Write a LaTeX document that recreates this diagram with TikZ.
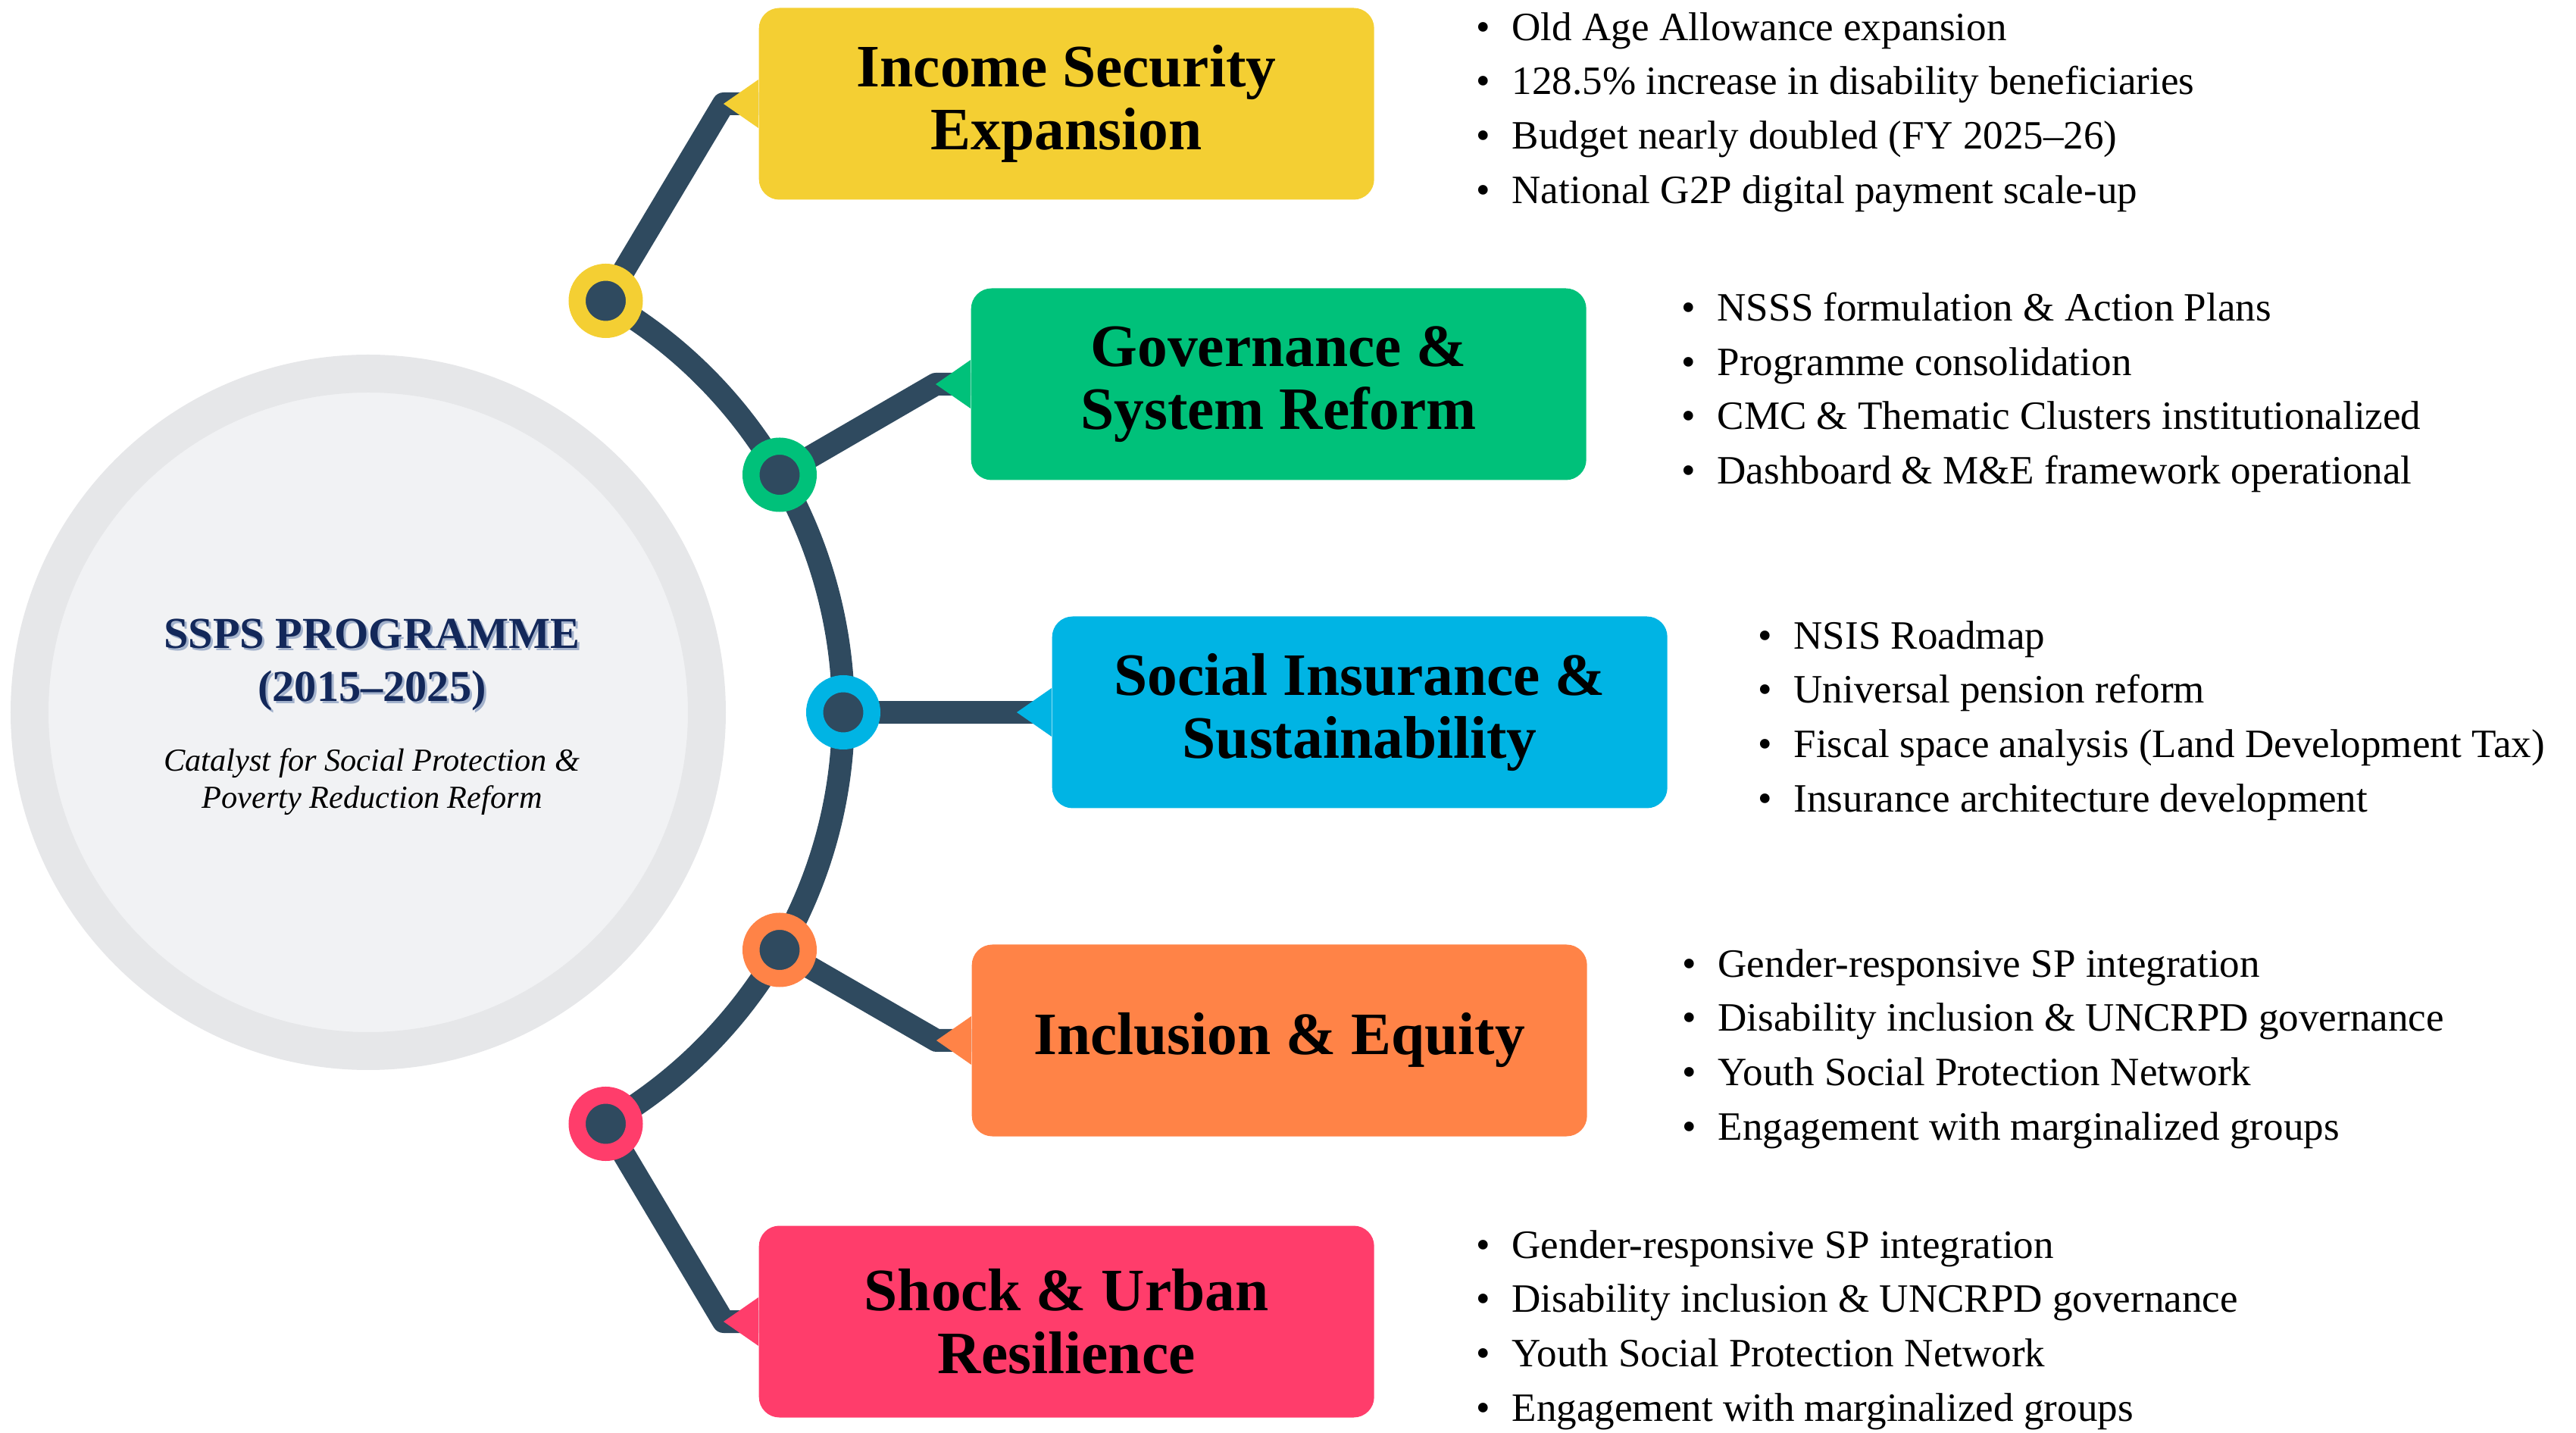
\documentclass[tikz,border=0pt]{standalone}
\usepackage{fontspec}
\setmainfont{Liberation Serif}
\usepackage{tikz}
\usetikzlibrary{calc}
\usetikzlibrary{positioning}
\usetikzlibrary{backgrounds}

\definecolor{spokecol}{HTML}{2F4A5F}
\definecolor{incomecol}{HTML}{F4CF33}
\definecolor{govcol}{HTML}{00C17A}
\definecolor{inscol}{HTML}{00B4E4}
\definecolor{inclcol}{HTML}{FF8347}
\definecolor{shockcol}{HTML}{FF3D6B}
\definecolor{navycol}{HTML}{13285A}
\definecolor{shadowcol}{HTML}{A3B2CC}
\definecolor{ringcol}{HTML}{E6E7E9}
\definecolor{hubcol}{HTML}{F1F2F4}

\tikzset{
    spoke/.style={line width=0.3cm, draw=spokecol, line join=round},
    topic/.style={fill=#1, rounded corners=0.27cm, minimum width=8.12cm, minimum height=2.53cm,
        inner sep=0, align=center, font=\bfseries\fontsize{22.6}{23.5}\selectfont},
    knot/.style={circle, draw=#1, fill=spokecol, line width=0.225cm, minimum size=0.755cm, inner sep=0},
    points/.style={inner sep=0, align=left, yshift=-0.11cm, font=\fontsize{15.1}{20.4}\selectfont},
    headline/.style={align=center, font=\bfseries\fontsize{16.6}{19.9}\selectfont}
}

\newcommand{\bul}{\textbullet\hspace{0.29cm}}
\newcommand{\boxtip}[2]{\fill[#2] ($(#1.west)+(0,0.32)$) -- ($(#1.west)+(-0.46,0)$) -- ($(#1.west)+(0,-0.32)$) -- cycle;}

\begin{document}
\begin{tikzpicture}
    \useasboundingbox (-4.86,9.40) rectangle (29.14,-9.51);

    % hub
    \node[circle, fill=hubcol, draw=ringcol, line width=0.5cm, minimum size=8.94cm, inner sep=0] (hub) at (0,0) {};
    \node[headline, text=shadowcol] (titleshade) at (0.08,0.60) {SSPS PROGRAMME\\(2015--2025)};
    \node[headline, text=navycol] (title) at (0.05,0.63) {SSPS PROGRAMME\\(2015--2025)};
    \node[align=center, font=\itshape\fontsize{12.05}{13.9}\selectfont] (tagline) at (0.05,-0.92)
        {Catalyst for Social Protection \&\\Poverty Reduction Reform};

    % knots on the spine
    \node[knot=incomecol] (k1) at (60:6.27) {};
    \node[knot=govcol] (k2) at (30:6.27) {};
    \node[knot=inscol] (k3) at (0:6.27) {};
    \node[knot=inclcol] (k4) at (-30:6.27) {};
    \node[knot=shockcol] (k5) at (-60:6.27) {};

    % boxes
    \node[topic=incomecol, anchor=west] (b1) at (5.15,8.03) {Income Security\\Expansion};
    \node[topic=govcol, anchor=west] (b2) at (7.95,4.33) {Governance \&\\System Reform};
    \node[topic=inscol, anchor=west] (b3) at (9.02,0) {Social Insurance \&\\Sustainability};
    \node[topic=inclcol, anchor=west] (b4) at (7.96,-4.33) {Inclusion \& Equity};
    \node[topic=shockcol, anchor=west] (b5) at (5.15,-8.04) {Shock \& Urban\\Resilience};

    \boxtip{b1}{incomecol}
    \boxtip{b2}{govcol}
    \boxtip{b3}{inscol}
    \boxtip{b4}{inclcol}
    \boxtip{b5}{shockcol}

    \coordinate (t1) at ($(b1.west)+(-0.46,0)$);
    \coordinate (t2) at ($(b2.west)+(-0.46,0)$);
    \coordinate (t3) at ($(b3.west)+(-0.46,0)$);
    \coordinate (t4) at ($(b4.west)+(-0.46,0)$);
    \coordinate (t5) at ($(b5.west)+(-0.46,0)$);

    % lists
    \node[points, right=1.33cm of b1] (l1) {\bul Old Age Allowance expansion\\
        \bul 128.5\% increase in disability beneficiaries\\
        \bul Budget nearly doubled (FY 2025--26)\\
        \bul National G2P digital payment scale-up};
    \node[points, right=1.24cm of b2] (l2) {\bul NSSS formulation \& Action Plans\\
        \bul Programme consolidation\\
        \bul CMC \& Thematic Clusters institutionalized\\
        \bul Dashboard \& M\&E framework operational};
    \node[points, right=1.18cm of b3] (l3) {\bul NSIS Roadmap\\
        \bul Universal pension reform\\
        \bul Fiscal space analysis (Land Development Tax)\\
        \bul Insurance architecture development};
    \node[points, right=1.24cm of b4] (l4) {\bul Gender-responsive SP integration\\
        \bul Disability inclusion \& UNCRPD governance\\
        \bul Youth Social Protection Network\\
        \bul Engagement with marginalized groups};
    \node[points, right=1.33cm of b5] (l5) {\bul Gender-responsive SP integration\\
        \bul Disability inclusion \& UNCRPD governance\\
        \bul Youth Social Protection Network\\
        \bul Engagement with marginalized groups};

    % spine and spokes
    \begin{scope}[on background layer]
        \draw[spoke] (k1.center) arc[start angle=60, end angle=-60, radius=6.27];
        \draw[spoke] (k1.center) -- (t1) -- (b1.west);
        \draw[spoke] (k2.center) -- (t2) -- (b2.west);
        \draw[spoke] (k3.center) -- (t3) -- (b3.west);
        \draw[spoke] (k4.center) -- (t4) -- (b4.west);
        \draw[spoke] (k5.center) -- (t5) -- (b5.west);
    \end{scope}
\end{tikzpicture}
\end{document}
